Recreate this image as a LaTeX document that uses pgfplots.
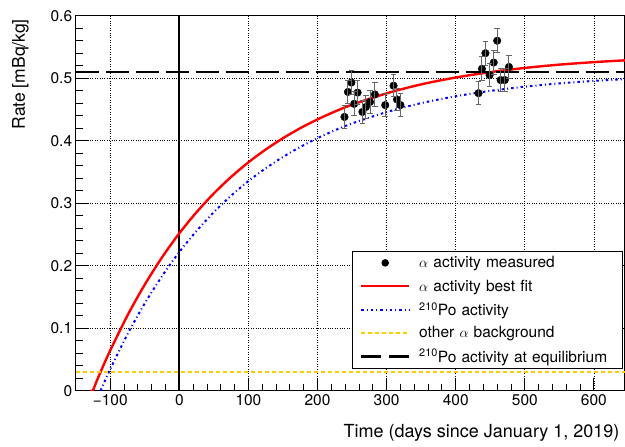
\documentclass[border=0pt]{standalone}
\usepackage{pgfplots}
\pgfplotsset{compat=1.18}
\usepackage{pgfplotstable}
\usepackage{fontspec}
\setmainfont{TeX Gyre Heros}
\usetikzlibrary{calc}

\definecolor{rootorange}{RGB}{255,204,0}

\pgfplotsset{
    dotleg/.style={legend image code/.code={%
        \path[draw=none, fill=none] (-9pt,0pt) -- (58pt,0pt);
        \path[draw=none, fill=black] (24pt,0pt) circle (3.8pt);}},
}

% alpha activity, measured: time [days], rate [mBq/kg], error
\pgfplotstableread{
t     r      e
239   0.438  0.019
244   0.478  0.019
249   0.493  0.019
253   0.459  0.019
258   0.477  0.019
265   0.446  0.019
270   0.454  0.019
276   0.462  0.019
283   0.474  0.019
298   0.457  0.018
310   0.488  0.018
315   0.466  0.018
320   0.457  0.019
433   0.476  0.018
438   0.515  0.019
443   0.540  0.019
449   0.505  0.019
455   0.525  0.019
460   0.560  0.019
465   0.497  0.019
471   0.497  0.019
477   0.518  0.019
}\measured

\begin{document}
\begin{tikzpicture}
\begin{axis}[
    name=ax,
    set layers,
    scale only axis,
    width=549.3pt, height=375pt,
    xmin=-150, xmax=645,
    ymin=0, ymax=0.6,
    xtick={-100,0,100,200,300,400,500,600},
    xticklabels={−100,0,100,200,300,400,500,600},
    ytick={0,0.1,0.2,0.3,0.4,0.5,0.6},
    yticklabels={0,0.1,0.2,0.3,0.4,0.5,0.6},
    minor x tick num=4,
    minor y tick num=4,
    tick align=inside,
    tick pos=left,
    major tick length=13pt,
    minor tick length=7pt,
    tick style={black, line width=0.9pt},
    axis line style={line width=1.3pt},
    grid=major,
    major grid style={black, dotted, line width=0.8pt},
    ticklabel style={font=\fontsize{15.5}{18}\selectfont},
    /pgf/number format/assume math mode=true,
    xlabel={Time (days since January 1, 2019)},
    ylabel={Rate [mBq/kg]},
    xlabel style={font=\fontsize{18}{21}\selectfont, at={(axis description cs:0.9964,0)}, anchor=base east, yshift=-47pt},
    ylabel style={font=\fontsize{17.5}{21}\selectfont, at={(axis description cs:-0.0923,1)}, anchor=base east},
    legend style={at={(0.9958,0.3733)}, anchor=north east, draw=black, line width=0.9pt,
        inner sep=0pt, font=\fontsize{15.5}{18}\selectfont, row sep=0pt,
        nodes={inner sep=0pt, text width=203pt, minimum height=23.4pt, align=left, anchor=west}},
    legend cell align=left,
]

% x = 0 marker
\addplot[black, line width=2.2pt, forget plot] coordinates {(0,0) (0,0.6)};

\addplot[only marks, mark=*, mark size=3.8pt, black, on layer=axis foreground, dotleg,
    error bars/.cd, y dir=both, y explicit,
    error bar style={black!60, line width=1pt},
    error mark options={rotate=90, mark size=2.8pt, black!60, line width=1pt},
    ] table[x=t, y=r, y error=e] {\measured};
\addlegendentry{$\alpha$ activity measured}

\addplot[red, line width=2.4pt, smooth,
    legend image code/.code={%
        \path[draw=none] (-9pt,0pt) -- (58pt,0pt);
        \draw[red, line width=2.4pt] (0pt,0pt) -- (48pt,0pt);}]
    coordinates {
    (-129,0) (-125.4,0) (-120,0.0144) (-114,0.030) (-107,0.0476) (-100,0.0645)
    (-75,0.1205) (-50,0.1698) (-25,0.2134) (0,0.2519) (25,0.2857) (50,0.3157)
    (75,0.3421) (100,0.3654) (125,0.3859) (150,0.4040) (175,0.4200) (200,0.4341)
    (225,0.4466) (250,0.4576) (300,0.4758) (350,0.4901) (400,0.5011) (450,0.5097)
    (500,0.5164) (550,0.5217) (600,0.5257) (645,0.5286)
    };
\addlegendentry{$\alpha$ activity best fit}

\addplot[blue, line width=2pt, smooth, dash pattern=on 2.5pt off 3pt on 1pt off 3pt,
    legend image code/.code={%
        \path[draw=none] (-9pt,0pt) -- (58pt,0pt);
        \draw[blue, line width=2pt, dash pattern=on 2.5pt off 3pt on 1pt off 3pt] (0pt,0pt) -- (48pt,0pt);}]
    coordinates {
    (-114,0) (-107,0.0176) (-100,0.0345) (-75,0.0905) (-50,0.1398) (-25,0.1834)
    (0,0.2219) (25,0.2557) (50,0.2857) (75,0.3121) (100,0.3354) (125,0.3559)
    (150,0.3740) (175,0.3900) (200,0.4041) (225,0.4166) (250,0.4276) (300,0.4458)
    (350,0.4601) (400,0.4711) (450,0.4797) (500,0.4864) (550,0.4917) (600,0.4957)
    (645,0.4986)
    };
\addlegendentry{\textsuperscript{210}Po activity}

\addplot[rootorange, line width=1.8pt, dash pattern=on 4pt off 3pt,
    legend image code/.code={%
        \path[draw=none] (-9pt,0pt) -- (58pt,0pt);
        \draw[rootorange, line width=1.8pt, dash pattern=on 4pt off 3pt] (0pt,0pt) -- (48pt,0pt);}]
    coordinates {(-150,0.03) (645,0.03)};
\addlegendentry{other $\alpha$ background}

\addplot[black, line width=2.6pt, dash pattern=on 23pt off 7pt,
    legend image code/.code={%
        \path[draw=none] (-9pt,0pt) -- (58pt,0pt);
        \draw[black, line width=2.6pt, dash pattern=on 20pt off 8pt] (0pt,0pt) -- (48pt,0pt);}]
    coordinates {(-150,0.51) (645,0.51)};
\addlegendentry{\textsuperscript{210}Po activity at equilibrium}

\end{axis}
\pgfresetboundingbox
\path[use as bounding box] ($(ax.south west)+(-75.7pt,-56.3pt)$) rectangle ($(ax.north east)+(0pt,15.7pt)$);
\end{tikzpicture}
\end{document}
